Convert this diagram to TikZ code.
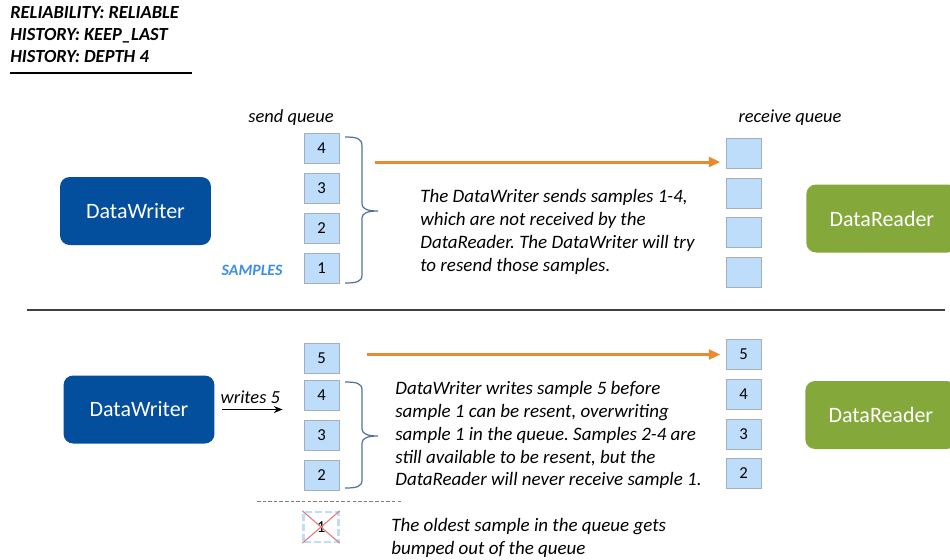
\documentclass[tikz,border=0pt]{standalone}
\usepackage{fontspec}
\setmainfont{Carlito}
\usetikzlibrary{arrows.meta}
\frenchspacing

\definecolor{writerblue}{RGB}{4,78,158}
\definecolor{readergreen}{RGB}{132,168,58}
\definecolor{slotblue}{RGB}{189,221,251}
\definecolor{slotedge}{RGB}{165,175,188}
\definecolor{sendorange}{RGB}{234,138,46}
\definecolor{bracegray}{RGB}{84,114,160}
\definecolor{labelblue}{RGB}{58,142,232}
\definecolor{crossred}{RGB}{226,120,120}

\tikzset{
  entity/.style={rounded corners=5.5pt, minimum width=3.02cm, minimum height=1.36cm,
    text=white, font=\fontsize{12.5}{15}\selectfont},
  slot/.style={draw=slotedge, fill=slotblue, minimum width=0.7cm, minimum height=0.6cm,
    inner sep=0pt, font=\fontsize{9.5}{10}\selectfont},
  note/.style={align=left, anchor=north west, inner sep=0pt, font=\fontsize{10.8}{13}\selectfont\itshape},
  qlabel/.style={inner sep=0pt, font=\fontsize{10.5}{13}\selectfont\itshape},
  send/.style={sendorange, line width=1.7pt, -{Triangle[length=6.5pt,width=5.5pt]}, shorten >=3pt},
  qbrace/.style={bracegray, line width=0.7pt}
}

\begin{document}
\begin{tikzpicture}[x=0.02cm, y=-0.02cm]
  \useasboundingbox (0,0) rectangle (950,559);
  \clip (0,0) rectangle (950,559);

  % QoS settings
  \node[anchor=north west, inner sep=0pt, align=left, font=\fontsize{10.5}{12.5}\selectfont\bfseries\itshape]
    (qos) at (10,6) {RELIABILITY: RELIABLE\\HISTORY: KEEP\_LAST\\HISTORY: DEPTH 4};
  \draw[line width=1.6pt] (10,73) -- (192,73);

  % first case: samples 1-4 are lost
  \node[qlabel] (sendlbl) at (291,118) {send queue};
  \node[qlabel] (recvlbl) at (790,118) {receive queue};
  \node[entity, fill=writerblue] (writerA) at (135.5,211) {DataWriter};
  \node[entity, fill=readergreen, anchor=west] (readerA) at (806,218.5) {DataReader};

  \node[slot] (sa4) at (321.5,148.5) {4};
  \node[slot] (sa3) at (321.5,188.5) {3};
  \node[slot] (sa2) at (321.5,228.5) {2};
  \node[slot] (sa1) at (321.5,268.5) {1};
  \node[font=\fontsize{9}{10}\selectfont\bfseries\itshape, text=labelblue] (samples) at (252,270) {SAMPLES};

  \node[slot] (ra4) at (743.5,153) {};
  \node[slot] (ra3) at (743.5,193) {};
  \node[slot] (ra2) at (743.5,232) {};
  \node[slot] (ra1) at (743.5,272) {};

  \draw[qbrace] (345,137) .. controls (356,137) and (362,138) .. (362,146) -- (362,204)
    .. controls (362,209) and (368,211) .. (378,211) .. controls (368,211) and (362,213) .. (362,218)
    -- (362,275) .. controls (362,282) and (356,283) .. (345,283);
  \coordinate (outA) at (375,162);
  \draw[send] (outA) -- (outA -| ra4.west);

  \node[note] (textA) at (420,189) {The DataWriter sends samples 1-4,\\which are not received by the\\DataReader. The DataWriter will try\\to resend those samples.};

  \draw[line width=0.6pt, black!75] (27,310) -- (945,310);

  % second case: sample 5 pushes sample 1 out
  \node[entity, fill=writerblue] (writerB) at (139,409.5) {DataWriter};
  \node[entity, fill=readergreen, anchor=west] (readerB) at (805,415) {DataReader};

  \node[slot] (sb5) at (321.5,358.5) {5};
  \node[slot] (sb4) at (321.5,395) {4};
  \node[slot] (sb3) at (321.5,435) {3};
  \node[slot] (sb2) at (321.5,475) {2};

  \node[slot] (rb5) at (743.5,354.5) {5};
  \node[slot] (rb4) at (743.5,394) {4};
  \node[slot] (rb3) at (743.5,434) {3};
  \node[slot] (rb2) at (743.5,473) {2};

  \draw[-{Stealth[length=5pt,width=4pt]}, line width=0.6pt, shorten <=4pt, shorten >=12pt]
    (writerB.east) -- (writerB.east -| sb4.west) node[pos=0.4, above, qlabel, yshift=3pt] {writes 5};

  \draw[qbrace] (345,382) .. controls (356,382) and (362,383) .. (362,390) -- (362,429)
    .. controls (362,434) and (368,436) .. (378,436) .. controls (368,436) and (362,438) .. (362,443)
    -- (362,480) .. controls (362,487) and (356,488) .. (345,488);
  \coordinate (outB) at (367,354.5);
  \draw[send] (outB) -- (rb5.west);

  \node[note] (textB) at (395,381) {DataWriter writes sample 5 before\\sample 1 can be resent, overwriting\\sample 1 in the queue. Samples 2-4 are\\still available to be resent, but the\\DataReader will never receive sample 1.};

  \draw[gray, line width=0.4pt, dash pattern=on 2pt off 1.2pt] (257,501) -- (402,501);
  \node[slot, fill=white, draw=slotblue, line width=1.3pt, dash pattern=on 4pt off 1.8pt] (gone) at (321,527) {1};
  \draw[crossred, line width=0.6pt] (gone.north west) -- (gone.south east);
  \draw[crossred, line width=0.6pt] (gone.south west) -- (gone.north east);
  \node[note] (textC) at (391,518) {The oldest sample in the queue gets\\bumped out of the queue};
\end{tikzpicture}
\end{document}
